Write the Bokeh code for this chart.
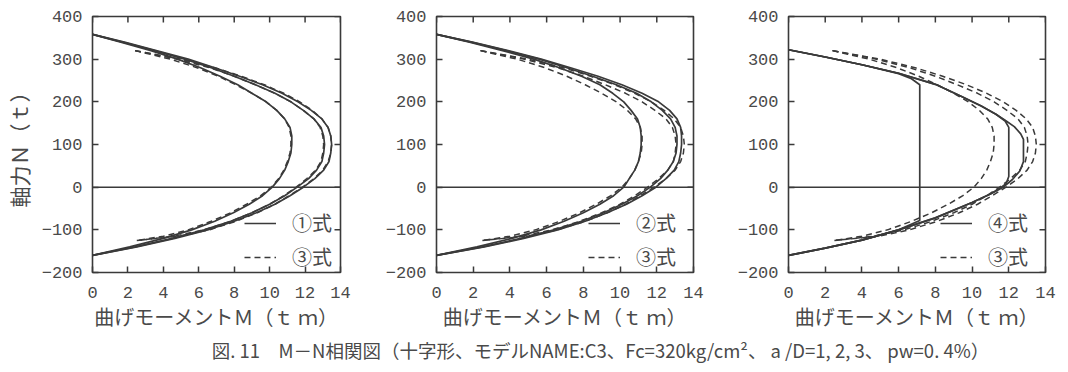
import math
from bokeh.plotting import figure
from bokeh.models import (Range1d, FixedTicker, Span, Legend, LegendItem, Label)
from bokeh.layouts import row, column
from bokeh.embed import file_html
from bokeh.resources import INLINE

# ---------------- data ----------------
x_ticks = [0, 2, 4, 6, 8, 10, 12, 14]
x_tick_labels = ["0", "2", "4", "6", "8", "10", "12", "14"]
y_ticks = [-200, -100, 0, 100, 200, 300, 400]
y_tick_labels = ["−200", "−100", "0", "100", "200", "300", "400"]

# Eq.(1) and Eq.(2): common N grid (t)
n_grid = [358, 340, 320, 300, 280, 260, 240, 220, 200, 180, 160, 140, 120, 100,
          80, 60, 40, 20, 0, -20, -40, -60, -80, -100, -120, -140, -160]
eq1_m_ad1 = [0, 1.6, 3.3, 4.8, 6.1, 7.2, 8.2, 9.0, 9.8, 10.4, 10.85, 11.15, 11.25, 11.25,
             11.2, 11.05, 10.85, 10.55, 10.15, 9.6, 8.85, 7.95, 6.9, 5.6, 4.0, 2.1, 0]
eq1_m_ad2 = [0, 1.7, 3.5, 5.2, 6.7, 8.0, 9.2, 10.3, 11.2, 11.9, 12.5, 12.9, 13.05, 13.1,
             13.05, 12.95, 12.65, 12.2, 11.55, 10.85, 10.0, 9.0, 7.8, 6.3, 4.5, 2.4, 0]
eq1_m_ad3 = [0, 1.8, 3.6, 5.4, 6.9, 8.3, 9.6, 10.7, 11.6, 12.35, 12.95, 13.3, 13.45, 13.5,
             13.45, 13.35, 13.05, 12.55, 11.9, 11.15, 10.3, 9.25, 8.0, 6.5, 4.65, 2.5, 0]

eq2_m_ad1 = [0, 1.8, 3.6, 5.3, 6.7, 7.9, 8.9, 9.6, 10.2, 10.6, 10.95, 11.1, 11.15, 11.15,
             11.1, 11.0, 10.8, 10.5, 10.2, 9.65, 8.9, 8.0, 6.95, 5.7, 4.1, 2.2, 0]
eq2_m_ad2 = [0, 1.9, 3.8, 5.6, 7.1, 8.5, 9.8, 10.9, 11.7, 12.3, 12.75, 13.0, 13.1, 13.1,
             13.05, 12.9, 12.6, 12.2, 11.65, 10.95, 10.1, 9.1, 7.9, 6.4, 4.6, 2.5, 0]
eq2_m_ad3 = [0, 1.95, 3.9, 5.7, 7.3, 8.8, 10.1, 11.2, 12.1, 12.7, 13.1, 13.3, 13.35, 13.35,
             13.3, 13.2, 12.95, 12.5, 11.95, 11.2, 10.35, 9.3, 8.1, 6.6, 4.75, 2.6, 0]

# Eq.(3) (dashed, same in all panels)
eq3_n = [320, 300, 280, 260, 240, 220, 200, 180, 160, 140, 120, 100, 80, 60, 40, 20, 0,
         -20, -40, -60, -80, -100, -115, -125]
eq3_m_ad1 = [2.4, 4.4, 5.9, 7.1, 8.1, 9.0, 9.8, 10.4, 10.85, 11.1, 11.2, 11.2, 11.15, 11.0,
             10.8, 10.5, 10.1, 9.5, 8.7, 7.8, 6.7, 5.4, 4.0, 2.5]
eq3_m_ad2 = [2.4, 4.8, 6.6, 8.0, 9.2, 10.3, 11.2, 11.9, 12.5, 12.85, 13.0, 13.05, 13.0, 12.9,
             12.6, 12.1, 11.5, 10.8, 10.0, 9.0, 7.8, 6.3, 4.6, 2.5]
eq3_m_ad3 = [2.4, 5.0, 6.9, 8.4, 9.7, 10.8, 11.7, 12.4, 12.95, 13.3, 13.45, 13.5, 13.45, 13.3,
             13.0, 12.5, 11.85, 11.1, 10.3, 9.3, 8.1, 6.6, 4.9, 2.5]

# Eq.(4)
eq4_m_ad1 = [0, 2, 4, 6, 6.7, 7.15, 7.15, 6.0, 4.0, 2.0, 0]
eq4_n_ad1 = [322, 305, 287, 266, 254, 240, -78, -100, -124, -143, -160]
eq4_m_ad2 = [0, 2, 4, 6, 8, 9.4, 10.5, 11.3, 11.8, 12.0, 12.0, 11.85, 11.6, 11.0, 10.0, 8.0,
             6.0, 4.0, 2.0, 0]
eq4_n_ad2 = [322, 305, 287, 267, 241, 213, 190, 171, 155, 140, 25, 8, 0, -16, -36, -72,
             -100, -124, -143, -160]
eq4_m_ad3 = [0, 2, 4, 6, 8, 9.4, 10.5, 11.3, 11.8, 12.3, 12.65, 12.8, 12.8, 12.6, 12.2, 11.7,
             11.0, 10.0, 8.0, 6.0, 4.0, 2.0, 0]
eq4_n_ad3 = [322, 305, 287, 267, 241, 213, 190, 171, 157, 142, 125, 112, 60, 38, 18, 0,
             -16, -36, -72, -100, -124, -143, -160]

x_title = "曲げモーメントＭ（ｔ ｍ）"
y_title = "軸力Ｎ（ｔ）"
caption = "図. 11　M－N相関図（十字形、モデルNAME:C3、Fc=320kg/cm²、 a /D=1, 2, 3、 pw=0. 4%）"

# ---------------- style ----------------
TEXT = "#4a4a4a"
LINE = "#3a3a3a"
TICK_FONT = "Liberation Mono"
JP_FONT = "Noto Sans CJK JP"
FIG_H = 334
CAP_H = 38
X_MIN, X_MAX = 0, 14
Y_MIN, Y_MAX = -200, 400


def style_axis(ax, ticks, labels, standoff):
    ax.ticker = FixedTicker(ticks=ticks)
    ax.major_tick_in = 6
    ax.major_tick_out = 0
    ax.minor_tick_line_color = None
    ax.major_tick_line_color = LINE
    ax.major_tick_line_width = 1.5
    ax.axis_line_color = None
    ax.major_label_overrides = dict(zip(ticks, labels))
    ax.major_label_text_font = TICK_FONT
    ax.major_label_text_font_size = "17px"
    ax.major_label_text_color = TEXT
    ax.major_label_standoff = standoff


def make_panel(width, left, right, solid, dashed, solid_label, ylabel=None):
    p = figure(width=width, height=FIG_H, x_range=Range1d(X_MIN, X_MAX),
               y_range=Range1d(Y_MIN, Y_MAX),
               output_backend="svg", toolbar_location=None,
               min_border_left=left, min_border_right=right,
               min_border_top=16, min_border_bottom=62)
    p.grid.visible = False
    p.outline_line_color = LINE
    p.outline_line_width = 1.6
    p.border_fill_color = "white"
    p.background_fill_color = "white"

    style_axis(p.xaxis[0], x_ticks, x_tick_labels, 14)
    style_axis(p.yaxis[0], y_ticks, y_tick_labels, 10)
    p.xaxis.axis_label = x_title
    p.xaxis.axis_label_text_font = JP_FONT
    p.xaxis.axis_label_text_font_size = "20px"
    p.xaxis.axis_label_text_font_style = "normal"
    p.xaxis.axis_label_text_color = TEXT
    p.xaxis.axis_label_standoff = 1
    if ylabel:
        p.yaxis.axis_label = ylabel
        p.yaxis.axis_label_text_font = JP_FONT
        p.yaxis.axis_label_text_font_size = "21px"
        p.yaxis.axis_label_text_font_style = "normal"
        p.yaxis.axis_label_text_color = TEXT
        p.yaxis.axis_label_standoff = 5

    # inward ticks on the top and right edges of the frame
    p.ray(x=x_ticks, y=[Y_MAX] * len(x_ticks), length=6, length_units="screen",
          angle=-math.pi / 2, line_color=LINE, line_width=1.5)
    p.ray(x=[X_MAX] * len(y_ticks), y=y_ticks, length=6, length_units="screen",
          angle=math.pi, line_color=LINE, line_width=1.5)

    p.add_layout(Span(location=0, dimension="width", line_color=LINE, line_width=1.5))

    s_r = [p.line(m, n, line_color=LINE, line_width=1.7) for m, n in solid]
    d_r = [p.line(m, n, line_color=LINE, line_width=1.5, line_dash="6 4") for m, n in dashed]

    legend = Legend(items=[LegendItem(label=solid_label, renderers=[s_r[0]]),
                           LegendItem(label="③式", renderers=[d_r[0]])],
                    location=(152, 1), padding=0, margin=0, spacing=5,
                    glyph_width=32, glyph_height=20, label_height=20, label_standoff=16,
                    label_text_font=JP_FONT, label_text_font_size="20px",
                    label_text_color=TEXT, background_fill_alpha=0, border_line_alpha=0)
    p.add_layout(legend)
    return p


dashed_set = [(eq3_m_ad1, eq3_n), (eq3_m_ad2, eq3_n), (eq3_m_ad3, eq3_n)]

f1 = make_panel(360, 83, 20,
                [(eq1_m_ad1, n_grid), (eq1_m_ad2, n_grid), (eq1_m_ad3, n_grid)],
                dashed_set, "①式", ylabel=y_title)
f2 = make_panel(360, 76, 27,
                [(eq2_m_ad1, n_grid), (eq2_m_ad2, n_grid), (eq2_m_ad3, n_grid)],
                dashed_set, "②式")
f3 = make_panel(348, 68, 23,
                [(eq4_m_ad1, eq4_n_ad1), (eq4_m_ad2, eq4_n_ad2), (eq4_m_ad3, eq4_n_ad3)],
                dashed_set, "④式")

cap = figure(width=1068, height=CAP_H, x_range=Range1d(0, 1), y_range=Range1d(0, 1),
             output_backend="svg", toolbar_location=None, x_axis_type=None, y_axis_type=None,
             min_border=0)
cap.grid.visible = False
cap.outline_line_color = None
cap.border_fill_color = "white"
cap.add_layout(Label(x=600, y=23, x_units="screen", y_units="screen", text=caption,
                     text_align="center", text_baseline="middle", text_font=JP_FONT,
                     text_font_size="18.5px", text_color=TEXT))

layout = column(row(f1, f2, f3), cap)
open("out.html", "w").write(file_html(layout, INLINE))
